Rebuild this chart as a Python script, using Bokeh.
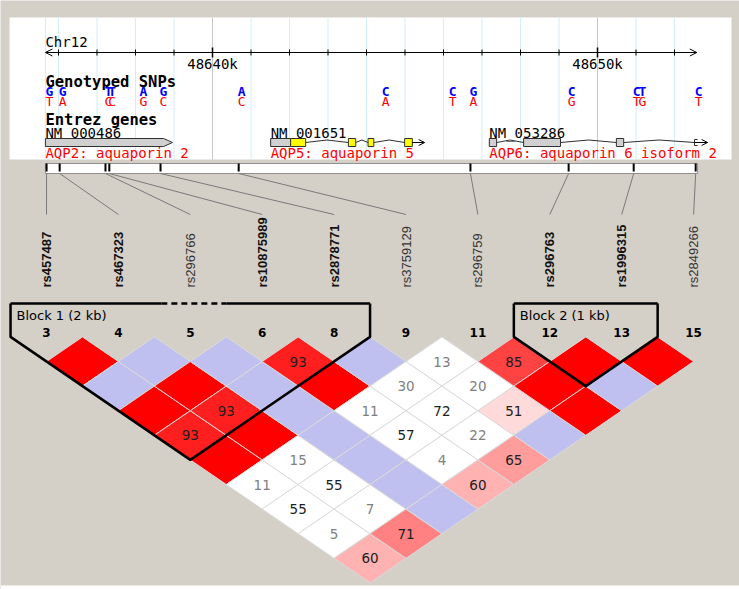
import numpy as np
from bokeh.plotting import figure
from bokeh.models import Range1d, ColumnDataSource, Arrow, OpenHead
from bokeh.core.properties import value
from bokeh.embed import file_html
from bokeh.resources import INLINE

# ---------------- data ----------------
chrom_label = "Chr12"
axis_kb = [48635.66, 48652.58]
major_ticks_kb = [48640, 48650]
major_tick_labels = ["48640k", "48650k"]
minor_ticks_kb = [48636, 48637, 48638, 48639, 48641, 48642, 48643, 48644, 48645,
                  48646, 48647, 48648, 48649, 48651, 48652]

snp_kb = [48635.69, 48636.03, 48637.22, 48637.32, 48638.13, 48638.65, 48640.68,
          48644.42, 48646.16, 48646.70, 48649.25, 48650.94, 48651.09, 48652.55]
allele_top = ["G", "G", "T", "T", "A", "G", "A", "C", "C", "G", "C", "C", "T", "C"]
allele_bot = ["T", "A", "C", "C", "G", "C", "C", "A", "T", "A", "G", "T", "G", "T"]

gene_ids = ["NM_000486", "NM_001651", "NM_053286"]
gene_names = ["AQP2: aquaporin 2", "AQP5: aquaporin 5", "AQP6: aquaporin 6 isoform 2"]
gene_start_kb = [48635.66, 48641.51, 48647.19]
# exons: (start, end, kind)
gene_exons = [
    [(48635.66, 48638.96, "utr")],
    [(48641.51, 48642.03, "utr"), (48642.03, 48642.42, "cds"), (48643.53, 48643.72, "cds"),
     (48644.04, 48644.19, "cds"), (48644.99, 48645.19, "cds")],
    [(48647.19, 48647.38, "utr"), (48648.08, 48649.04, "utr"), (48650.49, 48650.68, "utr")],
]
gene_end_kb = [48638.96, 48645.51, 48652.86]

marker_nums = ["3", "4", "5", "6", "8", "9", "11", "12", "13", "15"]
marker_names = ["rs457487", "rs467323", "rs296766", "rs10875989", "rs2878771",
                "rs3759129", "rs296759", "rs296763", "rs1996315", "rs2849266"]
marker_bold = [True, True, False, True, True, False, False, True, True, False]
marker_kb = [48635.69, 48636.03, 48637.22, 48637.32, 48638.65, 48640.68,
             48646.70, 48649.25, 48650.94, 48652.55]
bar_kb = [48635.66, 48652.60]

# D' (x100) for pairs (i, j>i), row i lists j = i+1 ... 9
dprime = [
    [100, 100, 100, 93, 100, 11, 55, 5, 60],
    [100, 100, 93, 100, 15, 55, 7, 71],
    [100, 100, 100, 100, 100, 100, 100],
    [93, 100, 11, 57, 4, 60],
    [100, 30, 72, 22, 65],
    [13, 20, 51, 100],
    [85, 100, 100],
    [100, 100],
    [100],
]
# LOD >= 2 ("S") or not ("N")
lod_class = [
    ["S", "N", "S", "S", "S", "N", "N", "N", "S"],
    ["N", "S", "S", "S", "N", "N", "N", "S"],
    ["N", "N", "N", "N", "N", "N", "N"],
    ["S", "S", "N", "N", "N", "S"],
    ["N", "N", "N", "N", "S"],
    ["N", "N", "S", "N"],
    ["S", "S", "S"],
    ["S", "N"],
    ["S"],
]
block_labels = ["Block 1 (2 kb)", "Block 2 (1 kb)"]
block_first = [0, 7]
block_last = [4, 8]
block_excluded = [[2], []]

# ---------------- layout / style ----------------
BG = "#D4D0C8"
W, H = 739, 589
X_LO, X_HI = 0, W
KB_LO, KB_HI = 48634.4935, 48653.6883
def gx(kb):
    return X_LO + (kb - KB_LO) * (X_HI - X_LO) / (KB_HI - KB_LO)

X0, DX = 46.0, 71.9
HW, HH = DX / 2, 24.6
Y1 = 361.0
MONO = value("DejaVu Sans Mono")
SANS = value("DejaVu Sans")
LIB = value("Liberation Sans")

p = figure(width=W, height=H, x_range=Range1d(X_LO, X_HI), y_range=Range1d(H, 0),
           output_backend="svg", toolbar_location=None, min_border=0, title=None,
           x_axis_location=None, y_axis_location=None, outline_line_color=None,
           background_fill_color=BG, border_fill_color=BG)
p.extra_x_ranges = {"kb": Range1d(KB_LO, KB_HI)}
p.xgrid.visible = False
p.ygrid.visible = False

# bottom white strip of the picture
p.quad(left=0, right=W, top=585, bottom=H, fill_color="white", line_color=None)

# ---- top genome panel ----
p.quad(left=9, right=731, top=17, bottom=159, fill_color="white", line_color=None)
p.segment(x0=[axis_kb[0]] + minor_ticks_kb, x1=[axis_kb[0]] + minor_ticks_kb, y0=17, y1=159,
          line_color="#D2EEF6", line_width=1, x_range_name="kb")
p.segment(x0=major_ticks_kb, x1=major_ticks_kb, y0=17, y1=159,
          line_color="#C8C8C8", line_width=1, x_range_name="kb")
p.add_layout(Arrow(start=OpenHead(size=7, line_width=1), end=OpenHead(size=7, line_width=1),
                   x_start=axis_kb[0], x_end=axis_kb[1], y_start=52, y_end=52,
                   line_width=1, x_range_name="kb"))
p.segment(x0=minor_ticks_kb, x1=minor_ticks_kb, y0=49, y1=55, line_color="black",
          x_range_name="kb")
p.segment(x0=major_ticks_kb, x1=major_ticks_kb, y0=47, y1=57, line_color="black",
          line_width=1.5, x_range_name="kb")
p.text(x=major_ticks_kb, y=63, text=major_tick_labels, text_align="center",
       text_baseline="middle", text_font=MONO, text_font_size="14px",
       text_color="black", x_range_name="kb")
p.text(x=[axis_kb[0]], y=[41], text=[chrom_label], text_align="left", text_baseline="middle",
       text_font=MONO, text_font_size="14px", text_color="black", x_range_name="kb")

p.text(x=[axis_kb[0]], y=[81], text=["Genotyped SNPs"], text_align="left",
       text_baseline="middle", text_font=MONO, text_font_size="15.5px",
       text_font_style="bold", text_color="black", x_range_name="kb")
p.text(x=snp_kb, y=91, text=allele_top, text_align="left", text_baseline="middle",
       text_font=MONO, text_font_size="13px", text_font_style="bold",
       text_color="#0000FF", x_range_name="kb", x_offset=-1)
p.text(x=snp_kb, y=101, text=allele_bot, text_align="left", text_baseline="middle",
       text_font=MONO, text_font_size="13px", text_color="#FF0000",
       x_range_name="kb", x_offset=-1)

p.text(x=[axis_kb[0]], y=[119], text=["Entrez genes"], text_align="left",
       text_baseline="middle", text_font=MONO, text_font_size="15.5px",
       text_font_style="bold", text_color="black", x_range_name="kb")
p.text(x=gene_start_kb, y=132.5, text=gene_ids, text_align="left", text_baseline="alphabetic",
       text_font=MONO, text_font_size="14px", text_color="black", x_range_name="kb")
p.text(x=gene_start_kb, y=152, text=gene_names, text_align="left", text_baseline="middle",
       text_font=MONO, text_font_size="14px", text_color="#FF0000", x_range_name="kb")

GY, GH = 142, 4
intr_xs, intr_ys = [], []
box_l, box_r, box_c = [], [], []
for gi, exons in enumerate(gene_exons):
    if gi == 0:
        s, e, _ = exons[0]
        tip = 0.23
        p.patch(x=[s, e - tip, e, e - tip, s], y=[GY - GH, GY - GH, GY, GY + GH, GY + GH],
                fill_color="#D0D0D0", line_color="#303030", line_width=1, x_range_name="kb")
        continue
    for k, (s, e, kind) in enumerate(exons):
        box_l.append(s); box_r.append(e)
        box_c.append("#FFFF00" if kind == "cds" else "#D0D0D0")
        if k + 1 < len(exons):
            ns = exons[k + 1][0]
            if ns > e + 0.01:
                intr_xs.append([e, (e + ns) / 2, ns]); intr_ys.append([GY, GY - 2.5, GY])
    last = exons[-1][1]
    if gi == 2:
        bx = gene_end_kb[gi] - 0.34
        intr_xs.append([last, (last + bx) / 2, bx])
        intr_ys.append([GY, GY - 2.5, GY])
        intr_xs.append([bx + 0.08, bx, bx, bx + 0.08]); intr_ys.append([GY - 3, GY - 3, GY + 3, GY + 3])
        a0 = bx
    else:
        a0 = last
    p.add_layout(Arrow(end=OpenHead(size=6, line_width=1), x_start=a0, x_end=gene_end_kb[gi],
                       y_start=GY, y_end=GY, line_width=1, x_range_name="kb"))
p.multi_line(xs=intr_xs, ys=intr_ys, line_color="#303030", line_width=1, x_range_name="kb")
p.quad(left=box_l, right=box_r, top=GY - GH, bottom=GY + GH, fill_color=box_c,
       line_color="#303030", line_width=1, x_range_name="kb")

# ---- marker bar & connectors ----
p.quad(left=[bar_kb[0]], right=[bar_kb[1]], top=163, bottom=173, fill_color="white",
       line_color="#909090", line_width=1, x_range_name="kb")
p.segment(x0=marker_kb, x1=marker_kb, y0=163, y1=171, line_color="black", line_width=2,
          x_range_name="kb")
mx = [X0 + i * DX for i in range(len(marker_nums))]
p.segment(x0=[gx(k) for k in marker_kb], y0=173, x1=mx, y1=214, line_color="#7A7A7A",
          line_width=1)
p.text(x=mx, y=287, text=marker_names, angle=np.pi / 2, text_align="left",
       text_baseline="middle", text_font=LIB, text_font_size="13px",
       text_font_style=["bold" if b else "normal" for b in marker_bold],
       text_color=["#111111" if b else "#333333" for b in marker_bold])

# ---- LD diamonds ----
xs, ys, cols, tx, ty, tt, tc = [], [], [], [], [], [], []
for i, row in enumerate(dprime):
    for k, d in enumerate(row):
        j = i + 1 + k
        cx = X0 + (i + j) / 2 * DX
        cy = Y1 + (j - i - 1) * HH
        xs.append([cx - HW, cx, cx + HW, cx])
        ys.append([cy, cy - HH, cy, cy + HH])
        strong = lod_class[i][k] == "S"
        if strong:
            g = int(min(255, max(0, 223 * 2 * (1 - d / 100))))
            cols.append("#%02X%02X%02X" % (255, g, g))
        elif d == 100:
            cols.append("#C0C0F0")
        else:
            cols.append("#FFFFFF")
        if d < 100:
            tx.append(cx); ty.append(cy); tt.append(str(d))
            tc.append("#202020" if (strong or d >= 50) else "#808080")
p.patches(xs=xs, ys=ys, fill_color=cols, line_color="#DADADA", line_width=1)
p.text(x=tx, y=ty, text=tt, text_align="center", text_baseline="middle", text_font=SANS,
       text_font_size="13.5px", text_color=tc)

p.text(x=mx, y=332, text=marker_nums, text_align="center", text_baseline="middle",
       text_font=SANS, text_font_size="12px", text_font_style="bold", text_color="black")

# ---- blocks ----
BT = 303
for b in range(len(block_labels)):
    a, z = block_first[b], block_last[b]
    xl, xr = mx[a] - HW, mx[z] + HW
    vx, vy = (mx[a] + mx[z]) / 2, Y1 + (z - a) * HH
    p.line(x=[xl, xl, vx, xr, xr], y=[BT, Y1 - HH, vy, Y1 - HH, BT], line_color="black",
           line_width=2.5)
    dashes = []
    for m in block_excluded[b]:
        d0 = (mx[m - 1] + mx[m]) / 2 + 7
        d1 = (mx[m] + mx[m + 1]) / 2
        dashes.append((d0, d1))
    segs = []
    cur = xl
    for d0, d1 in dashes:
        segs.append((cur, d0)); cur = d1
    segs.append((cur, xr))
    p.multi_line(xs=[[s, e] for s, e in segs], ys=[[BT, BT] for _ in segs],
                 line_color="black", line_width=2.5)
    for d0, d1 in dashes:
        p.line(x=[d0, d1], y=[BT, BT], line_color="black", line_width=2.5, line_dash="6 4")
    p.text(x=[xl + 6], y=[315], text=[block_labels[b]], text_align="left",
           text_baseline="middle", text_font=SANS, text_font_size="13px", text_color="black")

open("out.html", "w").write(file_html(p, INLINE))
